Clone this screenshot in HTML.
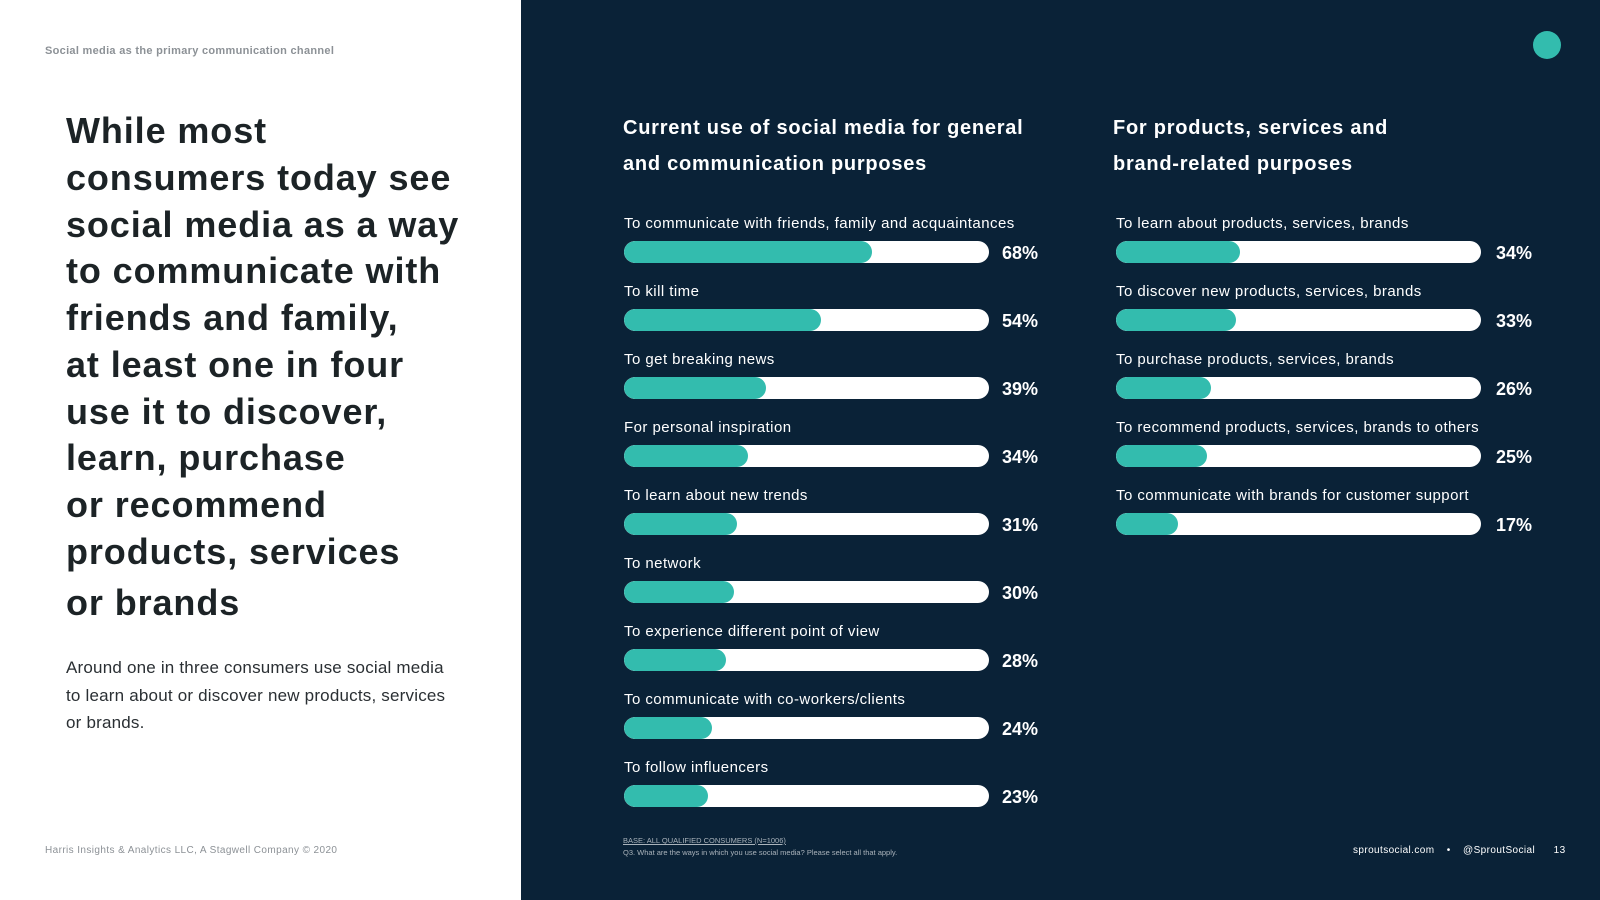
<!DOCTYPE html>
<html><head><meta charset="utf-8"><style>
body{margin:0;width:1600px;height:900px;position:relative;overflow:hidden;font-family:"Liberation Sans",sans-serif;background:#fff}
.a{position:absolute;white-space:nowrap}
#panel{position:absolute;left:521px;top:0;width:1079px;height:900px;background:#0a2237}
.h{font-weight:bold;font-size:36px;color:#1c2326;left:66px;line-height:40px;transform:translateY(-20px);letter-spacing:0.9px}
.ct{color:#fff;font-weight:bold;font-size:20px;line-height:24px;transform:translateY(-12px);letter-spacing:0.75px}
.lab{color:#fff;font-size:15px;line-height:18px;transform:translateY(-9px);letter-spacing:0.45px}
.val{color:#fff;font-weight:bold;font-size:18px;line-height:20px;transform:translateY(-10px)}
</style></head><body>
<div id="panel"></div>
<div class="a" style="left:45px;top:45px;font-size:11px;font-weight:bold;color:#8c9196;letter-spacing:0.3px">Social media as the primary communication channel</div>
<div id="heading"></div>
<div class="a" style="left:66px;top:654px;font-size:17px;line-height:27.5px;color:#2a2f33;letter-spacing:0.2px">Around one in three consumers use social media<br>to learn about or discover new products, services<br>or brands.</div>
<div class="a" style="left:45px;top:845px;font-size:10px;color:#8c9196;letter-spacing:0.4px">Harris Insights &amp; Analytics LLC, A Stagwell Company © 2020</div>
<div class="a" style="left:623px;top:836px;font-size:7.5px;color:#aab3bb;text-decoration:underline">BASE: ALL QUALIFIED CONSUMERS (N=1006)</div>
<div class="a" style="left:623px;top:848px;font-size:7.5px;color:#aab3bb">Q3. What are the ways in which you use social media? Please select all that apply.</div>
<div class="a" style="left:1353px;top:845px;font-size:10px;color:#fff;letter-spacing:0.4px;word-spacing:3px">sproutsocial.com &nbsp;• &nbsp;@SproutSocial &nbsp;&nbsp;13</div>
<div class="a" style="left:1533px;top:31px;width:28px;height:28px;border-radius:50%;background:#33bcae"></div>
<div class="a ct" style="left:623px;top:128px">Current use of social media for general</div>
<div class="a ct" style="left:623px;top:164px">and communication purposes</div>
<div class="a ct" style="left:1113px;top:128px">For products, services and</div>
<div class="a ct" style="left:1113px;top:164px">brand-related purposes</div>
<div id="charts"></div>
<script>
const headLines=["While most","consumers today see","social media as a way","to communicate with","friends and family,","at least one in four","use it to discover,","learn, purchase","or recommend","products, services","or brands"];
const headY=[131,178,225,271,318,365,412,458,505,552,603];
const leftCats=["To communicate with friends, family and acquaintances","To kill time","To get breaking news","For personal inspiration","To learn about new trends","To network","To experience different point of view","To communicate with co-workers/clients","To follow influencers"];
const leftVals=[68,54,39,34,31,30,28,24,23];
const rightCats=["To learn about products, services, brands","To discover new products, services, brands","To purchase products, services, brands","To recommend products, services, brands to others","To communicate with brands for customer support"];
const rightVals=[34,33,26,25,17];
const hd=document.getElementById('heading');
headLines.forEach((t,i)=>{const d=document.createElement('div');d.className='a h';d.style.top=headY[i]+'px';d.textContent=t;


hd.appendChild(d);});
const ch=document.getElementById('charts');
function drawChart(cats,vals,x0,valX,alignRight,side){
  const W=365,H=22,rowH=68,y0=252;
  const ys=i=>y0+i*rowH;
  const xs=v=>v/100*W;
  cats.forEach((c,i)=>{
    const l=document.createElement('div');l.className='a lab';l.style.left=(x0)+'px';l.style.top=(ys(i)-28)+'px';l.textContent=c;
    
    
    ch.appendChild(l);
    const t=document.createElement('div');t.className='a';t.style.cssText=`left:${x0}px;top:${ys(i)-H/2}px;width:${W}px;height:${H}px;border-radius:${H/2}px;background:#fff;overflow:hidden`;
    
    
    const f=document.createElement('div');f.style.cssText=`width:${xs(vals[i])}px;height:${H}px;border-radius:${H/2}px;background:#33bcae`;
    
    
    t.appendChild(f);ch.appendChild(t);
    const v=document.createElement('div');v.className='a val';v.style.top=(ys(i)+1)+'px';
    if(alignRight){v.style.right=(1600-valX)+'px';}else{v.style.left=valX+'px';}
    v.textContent=vals[i]+'%';
    
    
    ch.appendChild(v);
  });
}
drawChart(leftCats,leftVals,624,1038,true,'left');
drawChart(rightCats,rightVals,1116,1532,true,'right');
</script>
</body></html>
